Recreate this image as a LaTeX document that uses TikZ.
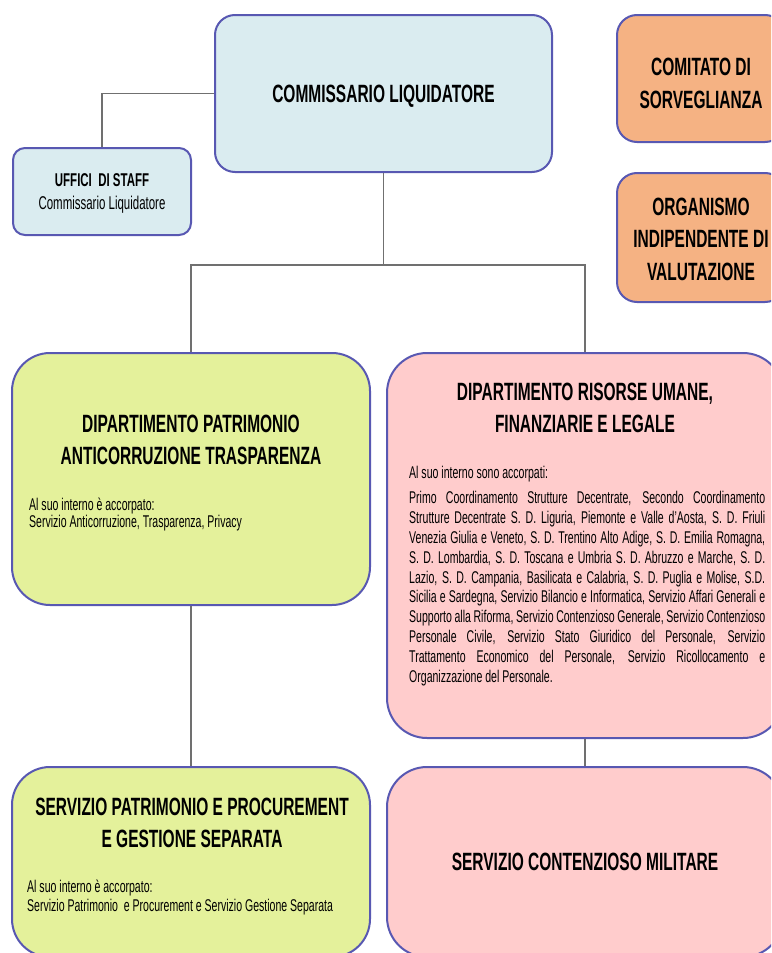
\documentclass[tikz,border=0pt]{standalone}
\usepackage{fontspec}
\setmainfont{Liberation Sans}[FakeStretch=0.62]

\definecolor{boxline}{RGB}{88,88,178}
\definecolor{commfill}{RGB}{218,236,240}
\definecolor{patfill}{RGB}{228,241,155}
\definecolor{risfill}{RGB}{255,204,204}
\definecolor{orgfill}{RGB}{245,178,131}
\definecolor{linkgray}{RGB}{112,112,112}

\newcommand{\headfont}{\fontsize{25}{32.5}\selectfont\bfseries}
\newcommand{\bodyfont}{\fontsize{17}{19.8}\selectfont}

\begin{document}
\hbadness=10000
\begin{tikzpicture}[x=1pt,y=-1pt,
        box/.style={draw=boxline, line width=2pt, rounded corners=20pt, inner sep=0pt},
        link/.style={draw=linkgray, line width=1.2pt},
        head/.style={font=\headfont, align=center, inner sep=0pt, anchor=base},
        body/.style={font=\bodyfont, inner sep=0pt, anchor=base west}]

        \useasboundingbox (0,0) rectangle (771,953);
        \clip (0,0) rectangle (771,953);

        % top boxes
        \node[box, fill=commfill, minimum width=337pt, minimum height=157pt, font=\headfont, text height=23pt] (comm) at (383.5,93.5) {COMMISSARIO LIQUIDATORE};
        \node[box, fill=commfill, rounded corners=12pt, minimum width=178pt, minimum height=87pt, align=center,
              font=\fontsize{18.5}{23}\selectfont, text height=39pt] (staff) at (102,191.5) {{\bfseries UFFICI~~DI STAFF}\\Commissario Liquidatore};
        \node[box, fill=orgfill, minimum width=168pt, minimum height=127pt, align=center, font=\headfont, text height=60pt] (comit) at (701,78.5) {COMITATO DI\\SORVEGLIANZA};
        \node[box, fill=orgfill, minimum width=168pt, minimum height=129pt, align=center, font=\headfont, text height=86pt] (oiv) at (701,237.5) {ORGANISMO\\INDIPENDENTE DI\\VALUTAZIONE};

        % departments
        \node[box, fill=patfill, rounded corners=38pt, minimum width=358pt, minimum height=252pt] (dpat) at (191,479) {};
        \node[box, fill=risfill, rounded corners=40pt, minimum width=396pt, minimum height=385pt] (dris) at (585,545.5) {};

        % services
        \node[box, fill=patfill, rounded corners=38pt, minimum width=358pt, minimum height=190pt] (spat) at (191,862) {};
        \node[box, fill=risfill, rounded corners=40pt, minimum width=396pt, minimum height=190pt, font=\headfont] (smil) at (585,862) {SERVIZIO CONTENZIOSO MILITARE};

        % headings (base = last line)
        \node[head] (dpathead) at (191,464.5) {DIPARTIMENTO PATRIMONIO\\ANTICORRUZIONE TRASPARENZA};
        \node[head] (drishead) at (585,432.5) {DIPARTIMENTO RISORSE UMANE,\\FINANZIARIE E LEGALE};
        \node[head] (spathead) at (192,847.5) {SERVIZIO PATRIMONIO E PROCUREMENT\\E GESTIONE SEPARATA};

        % body texts
        \node[body, align=left, font=\fontsize{17}{17}\selectfont] (dpattext) at (29,527) {Al suo interno è accorpato:\\Servizio Anticorruzione, Trasparenza, Privacy};
        \node[body, align=left, font=\fontsize{17}{19}\selectfont] (spattext) at (27,911) {Al suo interno è accorpato:\\Servizio Patrimonio~ e Procurement e Servizio Gestione Separata};
        \node[body, text width=356pt, align=justify] (dristext) at (409,478) {Al suo interno sono accorpati:\\[6pt]
            Primo Coordinamento Strutture Decentrate, Secondo Coordinamento\linebreak
            Strutture Decentrate S. D. Liguria, Piemonte e Valle d'Aosta, S. D. Friuli\linebreak
            Venezia Giulia e Veneto, S. D. Trentino Alto Adige, S. D. Emilia Romagna,\linebreak
            S. D. Lombardia, S. D. Toscana e Umbria S. D. Abruzzo e Marche, S. D.\linebreak
            Lazio, S. D. Campania, Basilicata e Calabria, S. D. Puglia e Molise, S.D.\linebreak
            Sicilia e Sardegna, Servizio Bilancio e Informatica, Servizio Affari Generali e\linebreak
            Supporto alla Riforma, Servizio Contenzioso Generale, Servizio Contenzioso\linebreak
            Personale Civile, Servizio Stato Giuridico del Personale, Servizio\linebreak
            Trattamento Economico del Personale, Servizio Ricollocamento e\linebreak
            Organizzazione del Personale.};

        % connectors
        \coordinate (bus) at (383.5,265);
        \draw[link] (comm.west) -| (staff.north);
        \draw[link] (comm.south) -- (bus);
        \draw[link] (dpat.north) |- (bus) -| (dris.north);
        \draw[link] (dpat.south) -- (spat.north);
        \draw[link] (dris.south) -- (smil.north);
    \end{tikzpicture}
\end{document}
